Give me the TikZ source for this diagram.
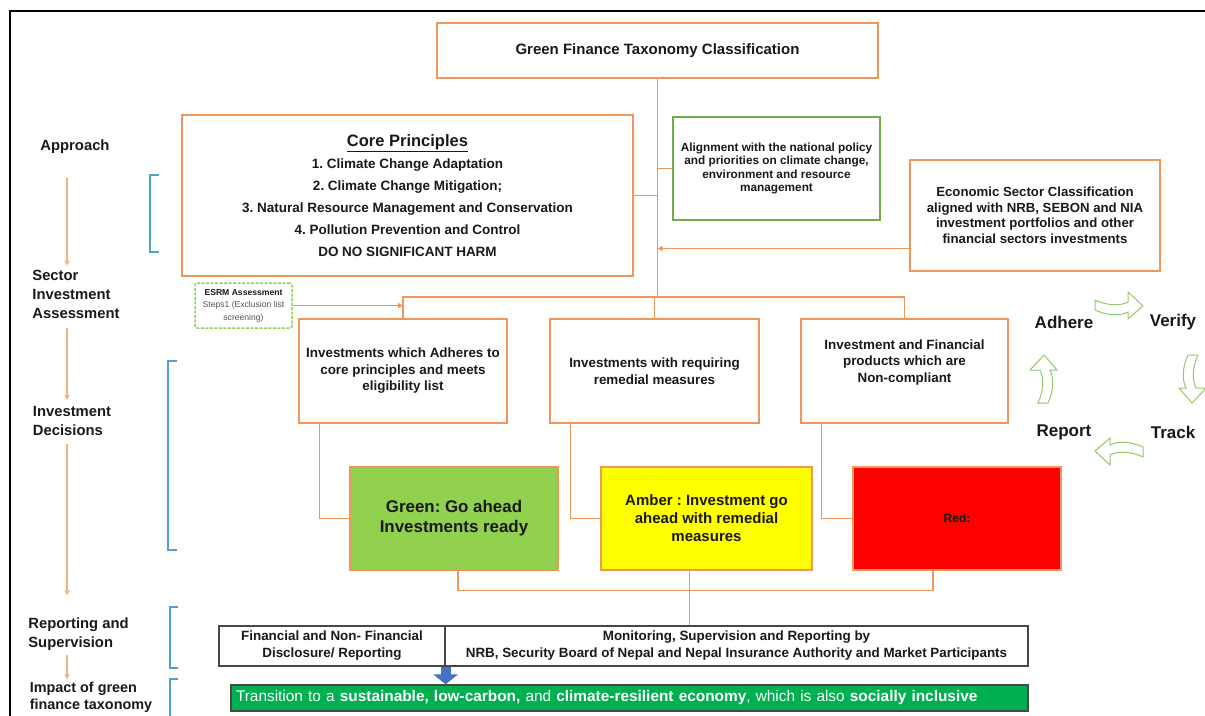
\documentclass[tikz,border=0pt]{standalone}
\usepackage{fontspec}
\setmainfont{Liberation Sans}
\frenchspacing
\usetikzlibrary{arrows.meta,calc}
\definecolor{peach}{RGB}{240,150,90}
\definecolor{peachlt}{RGB}{246,176,124}
\definecolor{leafline}{RGB}{112,173,71}
\definecolor{lime}{RGB}{146,208,80}
\definecolor{cyclime}{RGB}{150,200,110}
\definecolor{amberfill}{RGB}{255,255,0}
\definecolor{redfill}{RGB}{255,0,0}
\definecolor{barfill}{RGB}{0,176,80}
\definecolor{bracketblue}{RGB}{75,165,195}
\definecolor{arrowblue}{RGB}{68,114,196}
\definecolor{ink}{RGB}{25,25,25}
\newcommand{\pxfont}[2]{\fontsize{#1}{#2}\selectfont}
\tikzset{
  >={Triangle[length=5pt,width=5pt]},
  box/.style={draw=#1,line width=1.2pt,fill=white,text=ink,align=center,inner sep=2pt},
  box/.default=peach,
  tone/.style={draw=peach,line width=1.2pt,fill=#1,text=ink,align=center,inner sep=2pt,
    minimum width=208pt,minimum height=103pt},
  plain/.style={draw=ink!80,line width=1.2pt,fill=white,text=ink,align=center,inner sep=2pt,
    minimum height=40pt,font=\pxfont{13.4}{17}\bfseries},
  esrmbox/.style={draw=lime,line width=1.5pt,dash pattern=on 3pt off 1.5pt,rounded corners=2pt,
    fill=white,text=ink!75,align=center,inner sep=1pt,minimum width=97pt,minimum height=45pt,
    font=\pxfont{8.6}{12.5}},
  transitionbar/.style={draw=ink!80,line width=1.2pt,fill=barfill,text=white,align=left,
    inner xsep=5pt,inner ysep=1pt,text width=787pt,minimum height=26pt,font=\pxfont{15.4}{17}},
  wire/.style={draw=peach,line width=1.4pt},
  rail/.style={draw=peachlt,line width=1.2pt,->},
  lbl/.style={font=\pxfont{14.8}{19}\bfseries,align=left,text=ink,inner sep=2pt},
  cycword/.style={font=\pxfont{17}{20}\bfseries,text=ink},
  bracket/.style={draw=bracketblue,line width=1.5pt},
  bluearrow/.style={draw=arrowblue,line width=10pt,-{Triangle[width=24pt,length=10pt]}},
  % curved block arrow of the cycle
  pics/turn/.style={code={
    \draw[cyclime,line width=1pt,fill=white] (-23,-5) .. controls (-10,1) and (2,1) .. (10,-3)
      -- (10,-13) -- (25,1) -- (10,14) -- (10,7) .. controls (2,11) and (-10,11) .. (-23,5) -- cycle;
  }},
}
\begin{document}
\begin{tikzpicture}[x=1pt,y=-1pt]
  \useasboundingbox (0,0) rectangle (1205,715);
  \draw[line width=2pt] (10,720) -- (10,11) -- (1210,11);

  % taxonomy tree
  \node[box,minimum width=441pt,minimum height=55pt,font=\pxfont{15}{18}\bfseries] (title) at (657.5,50.5)
    {Green Finance Taxonomy Classification};
  \node[box,minimum width=451pt,minimum height=161pt,font=\pxfont{13.5}{22}\bfseries] (core) at (407.5,195.5)
    {{\pxfont{16.5}{22}\underline{Core Principles}}\\
     1. Climate Change Adaptation\\
     2. Climate Change Mitigation;\\
     3. Natural Resource Management and Conservation\\
     4. Pollution Prevention and Control\\
     DO NO SIGNIFICANT HARM};
  \node[box=leafline,minimum width=207pt,minimum height=103pt,font=\pxfont{11.8}{13.5}\bfseries] (policy) at (776.5,168.5)
    {Alignment with the national policy\\ and priorities on climate change,\\ environment and resource\\ management};
  \node[box,minimum width=250pt,minimum height=111pt,font=\pxfont{13.2}{15.5}\bfseries] (econ) at (1035,215.5)
    {Economic Sector Classification\\ aligned with NRB, SEBON and NIA\\ investment portfolios and other\\ financial sectors investments};
  \node[esrmbox] (esrm) at (243.5,305.5)
    {{\bfseries\color{ink}ESRM Assessment}\\ Steps1 (Exclusion list\\ screening)};

  \node[box,minimum width=208pt,minimum height=104pt,font=\pxfont{13.4}{16.5}\bfseries] (adhere) at (403,371)
    {Investments which Adheres to\\ core principles and meets\\ eligibility list};
  \node[box,minimum width=209pt,minimum height=104pt,font=\pxfont{13.4}{16.5}\bfseries] (remedial) at (654.5,371)
    {Investments with requiring\\ remedial measures};
  \node[box,minimum width=207pt,minimum height=104pt,font=\pxfont{13.4}{16.5}\bfseries] (noncomp) at (904.5,371)
    {Investment and Financial\\ products which are\\ Non-compliant\\[4pt]};

  \node[tone=lime,font=\pxfont{16.9}{20}\bfseries] (go) at (454,518.5) {Green: Go ahead\\ Investments ready};
  \node[tone=amberfill,minimum width=211pt,font=\pxfont{15}{18}\bfseries] (amber) at (706.5,518.5)
    {Amber : Investment go\\ ahead with remedial\\ measures};
  \node[tone=redfill,font=\pxfont{12}{14}\bfseries] (red) at (957,518.5) {Red:};

  \node[plain,minimum width=226pt] (disc) at (332,646) {Financial and Non- Financial\\ Disclosure/ Reporting};
  \node[plain,minimum width=583pt] (monitor) at (736.5,646)
    {Monitoring, Supervision and Reporting by\\ NRB, Security Board of Nepal and Nepal Insurance Authority and Market Participants};
  \node[transitionbar] (bar) at (629.5,698)
    {Transition to a \textbf{sustainable, low-carbon,} and \textbf{climate-resilient economy}, which is also \textbf{socially inclusive}};

  % connectors
  \coordinate (hub) at (657.5,297);
  \draw[wire] (title.south) -- (hub);
  \draw[wire] (core.east) -- (core.east -| hub);
  \draw[wire] (policy.west) -- (policy.west -| hub);
  \coordinate (econin) at ([yshift=-33pt]econ.west);
  \draw[wire,->] (econin) -- (econin -| hub);
  \draw[wire] (adhere.north) |- (hub) -| (noncomp.north);
  \draw[wire] (remedial.north) -- (remedial.north |- hub);
  \draw[wire,->] (esrm.east) -- (esrm.east -| adhere.north);
  \draw[wire] ([xshift=21pt]adhere.south west) |- (go.west);
  \draw[wire] ([xshift=21pt]remedial.south west) |- (amber.west);
  \draw[wire] ([xshift=21pt]noncomp.south west) |- (red.west);
  \draw[wire] ([xshift=4pt]go.south) -- ++(0,20) -| ([xshift=-24pt]red.south);
  \coordinate (amberout) at ([xshift=-17pt]amber.south);
  \draw[wire] (amberout) -- (amberout |- monitor.north);
  \draw[bluearrow] (disc.south east) -- (disc.south east |- bar.north);

  % stages on the left
  \node[lbl] (lapp) at (75,147) {Approach};
  \node[lbl] (lsec) at (76,294) {Sector\\ Investment\\ Assessment};
  \node[lbl] (linv) at (72,421) {Investment\\ Decisions};
  \node[lbl] (lrep) at (78.5,634) {Reporting and\\ Supervision};
  \node[lbl,font=\pxfont{14.4}{16.5}\bfseries] (limp) at (91,697.5) {Impact of green\\ finance taxonomy};
  \coordinate (axis) at (67,0);
  \draw[rail,shorten <=22pt,shorten >=2pt] (lapp.south -| axis) -- (lsec.north -| axis);
  \draw[rail,shorten <=8pt,shorten >=4pt] (lsec.south -| axis) -- (linv.north -| axis);
  \draw[rail,shorten <=6pt,shorten >=20pt] (linv.south -| axis) -- (lrep.north -| axis);
  \draw[rail,shorten <=2pt,shorten >=1pt] (lrep.south -| axis) -- (limp.north -| axis);

  \draw[bracket] (159,175) -- (150,175) -- (150,252) -- (159,252);
  \draw[bracket] (177,361) -- (168,361) -- (168,550) -- (177,550);
  \draw[bracket] (178,607) -- (170,607) -- (170,668) -- (178,668);
  \draw[bracket] (178,679) -- (170,679) -- (170,720);

  % adhere - verify - track - report
  \node[cycword] (wadhere) at (1064,322) {Adhere};
  \node[cycword] (wverify) at (1173,322) {Verify};
  \node[cycword] (wreport) at (1064,432) {Report};
  \node[cycword] (wtrack) at (1173,432) {Track};
  \pic at (1118,305) {turn};
  \pic[rotate=-90] at (1193,378) {turn};
  \pic[rotate=180] at (1120,452) {turn};
  \pic[rotate=90] at (1043,380) {turn};
\end{tikzpicture}
\end{document}
